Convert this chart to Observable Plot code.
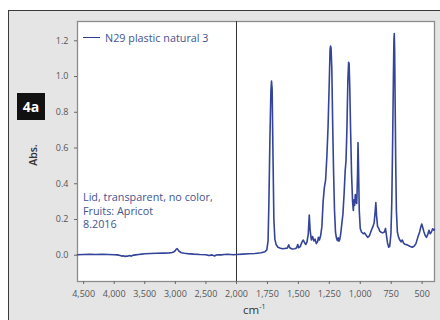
<!DOCTYPE html>
<html>
<head>
<meta charset="utf-8">
<script src="https://cdn.jsdelivr.net/npm/d3@7"></script>
<script src="https://cdn.jsdelivr.net/npm/@observablehq/plot@0.6"></script>
<style>
  html, body { margin: 0; padding: 0; background: #fff; }
  #wrap { position: relative; width: 440px; height: 320px; overflow: hidden; font-family: "Open Sans", sans-serif; }
  #panel { position: absolute; left: 8px; top: 10px; width: 432px; height: 310px; background: #e5e5e5; border-top: 1.5px solid #3a3a3a; border-left: 1.5px solid #3a3a3a; box-sizing: border-box; }
  #chart { position: absolute; left: 0; top: 0; }
  .ov { position: absolute; white-space: nowrap; }
  #badge { left: 17px; top: 93px; width: 28px; height: 27px; background: #111; color: #fff; font-weight: 700; font-size: 14px; line-height: 27px; text-align: center; }
  #ylab { left: 33px; top: 155px; transform: translate(-50%, -50%) rotate(-90deg); font-size: 10.5px; font-weight: 600; color: #333; }
  #xlab { left: 243px; top: 302px; font-size: 11.5px; color: #333; }
  #xlab sup { font-size: 7px; vertical-align: 5px; }
  #legend { left: 83px; top: 30px; font-size: 10.8px; color: #42548f; line-height: 16px; }
  #legend .sw { display: inline-block; width: 17px; height: 0; border-top: 1.3px solid #2f3f8f; vertical-align: 4px; margin-right: 5px; }
  #note { left: 83px; top: 190px; font-size: 10.8px; color: #42548f; line-height: 13.5px; }
</style>
</head>
<body>
<div id="wrap">
  <div id="panel"></div>
  <div id="chart"></div>
  <div id="badge" class="ov">4a</div>
  <div id="ylab" class="ov">Abs.</div>
  <div id="xlab" class="ov">cm<sup>-1</sup></div>
  <div id="legend" class="ov"><span class="sw"></span>N29 plastic natural 3</div>
  <div id="note" class="ov">Lid, transparent, no color,<br>Fruits: Apricot<br>8.2016</div>
</div>
<script>
const seriesName = "N29 plastic natural 3";
const xTicks = [4500, 4000, 3500, 3000, 2500, 2000, 1750, 1500, 1250, 1000, 750, 500];
const yTicks = [0, 0.2, 0.4, 0.6, 0.8, 1.0, 1.2];

const wavenumbers = [
  4600, 4500, 4400, 4300, 4200, 4100, 4000, 3950, 3900, 3870, 3850, 3820, 3800, 3780, 3750, 3720, 3700,
  3650, 3600, 3550, 3500, 3400, 3300, 3200, 3100, 3050, 3020, 3000, 2985, 2970, 2955, 2940, 2920, 2900,
  2850, 2800, 2700, 2600, 2500, 2450, 2400, 2360, 2330, 2300, 2250, 2200, 2150, 2100, 2050, 2000,
  1950, 1900, 1850, 1800, 1770, 1755, 1745, 1738, 1730, 1722, 1717, 1712, 1705, 1698, 1690, 1680,
  1665, 1650, 1630, 1610, 1590, 1578, 1570, 1550, 1530, 1515, 1505, 1498, 1485, 1470, 1460, 1450,
  1440, 1430, 1420, 1412, 1405, 1395, 1385, 1375, 1365, 1355, 1345, 1338, 1330, 1320, 1310, 1300,
  1290, 1280, 1270, 1260, 1250, 1244, 1240, 1236, 1230, 1222, 1215, 1208, 1200, 1192, 1185, 1178,
  1172, 1165, 1158, 1150, 1140, 1130, 1122, 1115, 1108, 1100, 1094, 1090, 1085, 1078, 1070, 1062,
  1056, 1050, 1045, 1040, 1034, 1028, 1022, 1018, 1014, 1008, 1000, 990, 975, 965, 955, 940, 925,
  910, 898, 888, 880, 874, 868, 860, 850, 843, 835, 820, 805, 796, 790, 780, 770, 762, 752, 745,
  738, 732, 728, 725, 722, 718, 713, 708, 700, 690, 680, 670, 660, 650, 640, 620, 600, 580, 565,
  550, 535, 520, 510, 503, 495, 485, 475, 465, 455, 445, 435, 425, 415, 405, 400
];
const absorbance = [
  0.003, 0.004, 0.005, 0.004, 0.005, 0.004, 0.003, 0.002, -0.002, -0.005, -0.003, -0.007, -0.004, -0.006, -0.002, -0.005, -0.001,
  0.002, 0.004, 0.006, 0.008, 0.010, 0.011, 0.012, 0.013, 0.015, 0.020, 0.026, 0.034, 0.037, 0.030, 0.022, 0.018, 0.014,
  0.011, 0.009, 0.006, 0.004, 0.003, -0.002, 0.002, -0.004, 0.001, 0.003, 0.002, 0.004, 0.005, 0.004, 0.003, 0.004,
  0.006, 0.008, 0.010, 0.014, 0.020, 0.030, 0.080, 0.300, 0.650, 0.920, 0.975, 0.930, 0.550, 0.200, 0.090, 0.060,
  0.045, 0.040, 0.036, 0.038, 0.040, 0.058, 0.042, 0.035, 0.036, 0.040, 0.060, 0.042, 0.048, 0.075, 0.085, 0.070,
  0.060, 0.075, 0.120, 0.225, 0.140, 0.085, 0.105, 0.080, 0.090, 0.065, 0.075, 0.100, 0.085, 0.110, 0.160, 0.300,
  0.380, 0.420, 0.550, 0.720, 0.980, 1.150, 1.170, 1.160, 1.050, 0.700, 0.450, 0.250, 0.130, 0.095, 0.082, 0.098,
  0.078, 0.090, 0.120, 0.170, 0.230, 0.350, 0.470, 0.530, 0.700, 0.980, 1.080, 1.070, 0.950, 0.700, 0.450, 0.300,
  0.250, 0.310, 0.280, 0.340, 0.300, 0.290, 0.450, 0.630, 0.500, 0.250, 0.150, 0.130, 0.120, 0.125, 0.115, 0.100, 0.110,
  0.140, 0.160, 0.180, 0.240, 0.295, 0.220, 0.160, 0.150, 0.135, 0.130, 0.125, 0.130, 0.150, 0.120, 0.070, 0.045, 0.050, 0.120, 0.300,
  0.650, 1.000, 1.200, 1.240, 1.150, 0.850, 0.500, 0.250, 0.130, 0.100, 0.085, 0.075, 0.085, 0.068, 0.062, 0.058, 0.050, 0.045, 0.050,
  0.065, 0.100, 0.130, 0.160, 0.175, 0.155, 0.130, 0.110, 0.100, 0.115, 0.140, 0.120, 0.130, 0.148, 0.140, 0.145
];

const data = wavenumbers.map((w, i) => ({wavenumber: w, abs: absorbance[i]}));

const chart = Plot.plot({
  width: 440,
  height: 320,
  marginLeft: 77,
  marginRight: 6,
  marginTop: 21,
  marginBottom: 39,
  style: {background: "transparent", fontFamily: "Open Sans, sans-serif", fontSize: "9px", color: "#555"},
  x: {type: "linear", domain: [4600, 2000, 400], range: [77, 236, 434], ticks: xTicks, tickFormat: d3.format(","), tickSize: 3, label: null},
  y: {domain: [-0.147, 1.308], ticks: yTicks, tickFormat: d3.format(".1f"), tickSize: 3, label: null},
  marks: [
    Plot.frame({fill: "white", stroke: "#8c8c8c", strokeWidth: 1.3}),
    Plot.ruleX([2000], {stroke: "#333", strokeWidth: 1}),
    Plot.line(data, {x: "wavenumber", y: "abs", stroke: "#33449a", strokeWidth: 1.6}),
    Plot.axisX({ticks: xTicks, tickFormat: d3.format(","), tickSize: 3, stroke: "#666", label: null}),
    Plot.axisY({ticks: yTicks, tickFormat: d3.format(".1f"), tickSize: 3, stroke: "#666", label: null})
  ]
});
document.getElementById("chart").appendChild(chart);
</script>
</body>
</html>
